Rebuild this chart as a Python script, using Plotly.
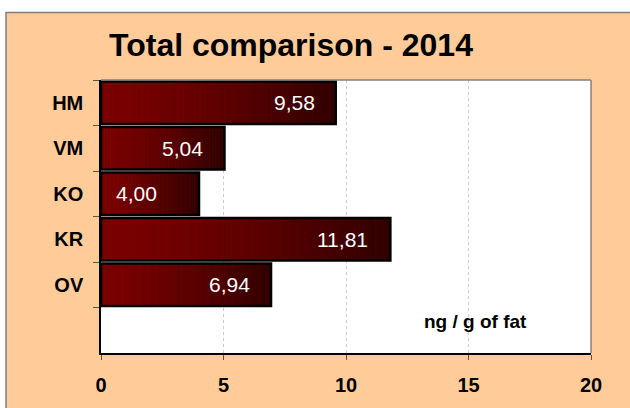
import plotly.graph_objects as go

# data
categories = ['HM', 'VM', 'KO', 'KR', 'OV']
values = [9.58, 5.04, 4.00, 11.81, 6.94]
labels = ['9,58', '5,04', '4,00', '11,81', '6,94']
label_shift = [-19, -19, -40, -20, -19]   # px from bar end
x_ticks = [0, 5, 10, 15, 20]

N_SEG = 40   # gradient slices per bar
c_start = (122, 0, 0)
c_end = (50, 0, 0)


def mix(t):
    t = t ** 1.4
    return 'rgb(%d,%d,%d)' % tuple(round(a + (b - a) * t) for a, b in zip(c_start, c_end))


fig = go.Figure()

# gradient fill built from slices of each bar
for i in range(N_SEG):
    col = mix(i / (N_SEG - 1))
    fig.add_trace(go.Bar(
        y=categories, x=[v / N_SEG for v in values],
        base=[v * i / N_SEG for v in values],
        orientation='h', width=0.93,
        marker=dict(color=col, line=dict(width=1, color=col)),
        hoverinfo='skip', showlegend=False))

# outline
fig.add_trace(go.Bar(
    y=categories, x=values, orientation='h', width=0.93,
    marker=dict(color='rgba(0,0,0,0)', line=dict(color='black', width=2.5)),
    showlegend=False))

# value labels
for c, v, t, s in zip(categories, values, labels, label_shift):
    fig.add_annotation(x=v, y=c, text=t, showarrow=False, xanchor='right', xshift=s,
                       font=dict(family='Liberation Sans, Arial', size=21, color='white'))

# outer peach frame + white plot area
fig.add_shape(type='rect', xref='paper', yref='paper',
              x0=(6 - 101) / 490, x1=(660 - 101) / 490,
              y0=(355 - 440) / 275, y1=(355 - 12) / 275,
              fillcolor='#FFCC99', line=dict(color='#7f7f7f', width=1.5), layer='below')
fig.add_shape(type='rect', xref='paper', yref='paper', x0=0, x1=1, y0=0, y1=1,
              fillcolor='white', line=dict(width=0), layer='below')
# grey top/right border of plot area
fig.add_shape(type='line', xref='paper', yref='paper', x0=0, x1=1, y0=1, y1=1,
              line=dict(color='#808080', width=1.5))
fig.add_shape(type='line', xref='paper', yref='paper', x0=1, x1=1, y0=0, y1=1,
              line=dict(color='#808080', width=1.5))

fig.add_annotation(xref='paper', yref='paper', x=(291 - 101) / 490, y=(355 - 45) / 275,
                   xanchor='center', yanchor='middle',
                   text='<b>Total comparison - 2014</b>', showarrow=False,
                   font=dict(family='Liberation Sans, Arial', size=32, color='black'))
fig.add_annotation(xref='paper', yref='paper', x=(475 - 101) / 490, y=(355 - 323) / 275,
                   xanchor='center', yanchor='middle',
                   text='<b>ng / g of fat</b>', showarrow=False,
                   font=dict(family='Liberation Sans, Arial', size=19, color='black'))

fig.update_layout(
    width=630, height=408,
    margin=dict(l=101, r=39, t=80, b=53),
    paper_bgcolor='white', plot_bgcolor='white',
    barmode='overlay',
    font=dict(family='Liberation Sans, Arial', color='black'),
    xaxis=dict(range=[0, 20], tickvals=x_ticks, ticks='outside', ticklen=5,
               tickcolor='#555555', showline=True, linecolor='black', linewidth=1.5,
               showgrid=True, gridcolor='#cccccc', griddash='dot', gridwidth=1,
               zeroline=False, ticklabelstandoff=8,
               tickfont=dict(size=20, family='Liberation Sans, Arial', weight='bold')),
    yaxis=dict(type='category', categoryorder='array',
               categoryarray=categories + [' '], range=[5.5, -0.5],
               tickson='boundaries', ticks='outside', ticklen=6, tickcolor='#555555',
               showline=True, linecolor='black', linewidth=1.5, showgrid=False,
               ticklabelstandoff=12,
               tickfont=dict(size=20, family='Liberation Sans, Arial', weight='bold')),
)

fig.write_html("out.html", config={'displayModeBar': False},
               post_script="document.body.style.margin='0';")
